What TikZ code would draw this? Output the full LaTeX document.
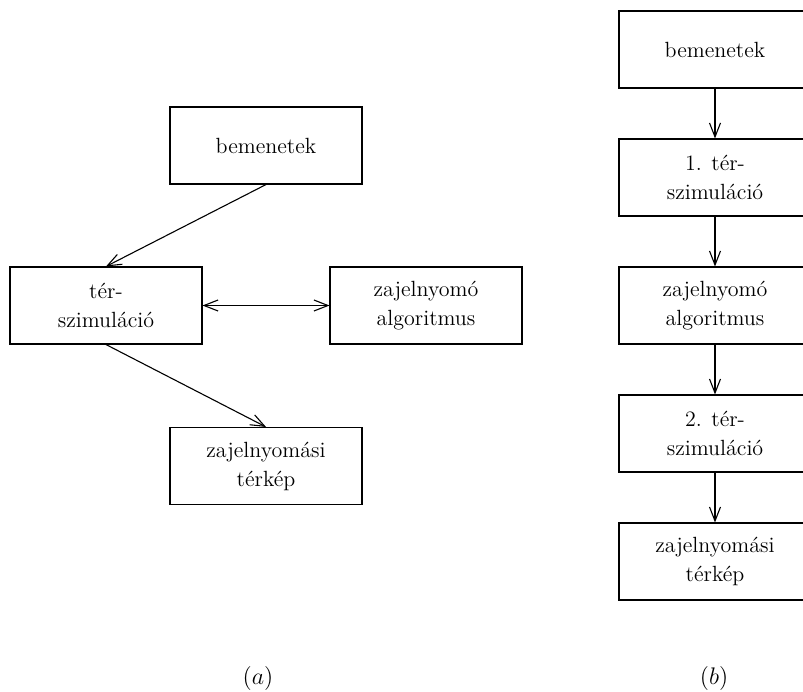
\documentclass[tikz,border=0pt]{standalone}
\usepackage{fontspec}
\usetikzlibrary{arrows.meta}
\tikzset{doboz/.style={draw, minimum width=96pt, minimum height=38.5pt, align=center,
  font=\fontsize{11}{14.5}\selectfont\addfontfeature{LetterSpace=9}, inner sep=0pt},
  felirat/.style={font=\fontsize{12.5}{15}\selectfont}}
\begin{document}
\begin{tikzpicture}[x=0.5pt, y=-0.5pt, >={Straight Barb[length=7pt,width=5.5pt]}, line width=0.55pt]
\useasboundingbox (0,0) rectangle (803,691);
% (a)
\node[doboz] (bem) at (266,145.5) {bemenetek};
\node[doboz] (ter) at (106,305.5) {tér-\\szimuláció};
\node[doboz] (alg) at (426,305.5) {zajelnyomó\\algoritmus};
\node[doboz] (terk) at (266,466) {zajelnyomási\\térkép};
\draw[->] (bem.south) -- (ter.north);
\draw[<->] (ter) -- (alg);
\draw[->] (ter.south) -- (terk.north);
\node[felirat] (la) at (258,678) {$(a)$};
% (b)
\node[doboz] (bemB) at (715,49.5) {bemenetek};
\node[doboz] (terB1) at (715,177.5) {1. tér-\\szimuláció};
\node[doboz] (algB) at (715,305.5) {zajelnyomó\\algoritmus};
\node[doboz] (terB2) at (715,433.5) {2. tér-\\szimuláció};
\node[doboz] (terkB) at (715,561.5) {zajelnyomási\\térkép};
\foreach \a/\b in {bemB/terB1, terB1/algB, algB/terB2, terB2/terkB}
{
\draw[->] (\a) -- (\b);
}
\node[felirat] (lb) at (714,678) {$(b)$};
\end{tikzpicture}
\end{document}
